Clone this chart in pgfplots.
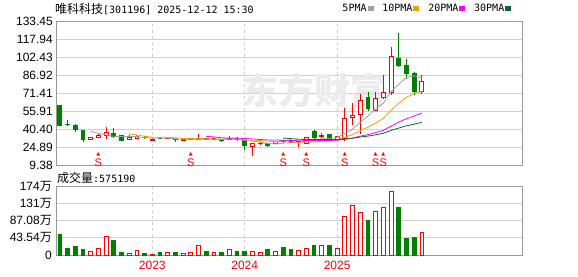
\documentclass[border=0pt]{standalone}
\usepackage{fontspec}
\setmainfont{Liberation Sans}
\newfontfamily\cjk{Noto Sans CJK SC}
\newfontfamily\dejavu{DejaVu Sans}
\newfontfamily\mono{DejaVu Sans Mono}
\usepackage{pgfplots}
\pgfplotsset{compat=1.18}
\definecolor{kred}{HTML}{FF0000}
\definecolor{kgreen}{HTML}{008000}
\definecolor{ma5}{HTML}{A0A0A0}
\definecolor{ma10}{HTML}{F5A000}
\definecolor{ma20}{HTML}{FF00FF}
\definecolor{ma30}{HTML}{006B33}
\definecolor{gridc}{HTML}{D0D0D0}
\definecolor{framec}{HTML}{999999}

% candle: index, open, high, low, close
\newcommand\candle[5]{%
  \pgfmathsetmacro\xl{#1-0.25}%
  \pgfmathsetmacro\xr{#1+0.25}%
  \ifdim #5pt<#2pt\relax \def\cc{kgreen}\def\ff{kgreen}\else \def\cc{kred}\def\ff{white}\fi
  \edef\temp{%
    \noexpand\addplot[forget plot, draw=\cc, line width=0.9pt] coordinates {(#1,#3) (#1,#4)};%
    \noexpand\addplot[forget plot, draw=\cc, fill=\ff, line width=0.9pt] coordinates {(\xl,#2) (\xr,#2) (\xr,#5) (\xl,#5)} -- cycle;%
  }\temp}

\begin{document}
\begin{tikzpicture}
\useasboundingbox (0,0) rectangle (578pt,-276pt);
\node[anchor=west, inner sep=0pt] at (55pt,-9pt) {{\cjk\fontsize{12}{12}\selectfont 唯科科技}{\mono\fontsize{10}{10}\selectfont [301196] 2025-12-12 15:30}};
\node[anchor=west, inner sep=0pt] at (57pt,-177.5pt) {{\cjk\fontsize{12}{12}\selectfont 成交量}{\mono\fontsize{10}{10}\selectfont :575190}};

\begin{axis}[
  at={(56pt,-21.5pt)}, anchor=north west,
  scale only axis, width=466pt, height=143.5pt,
  xmin=-0.5, xmax=60, ymin=9.38, ymax=133.45,
  axis line style={framec, line width=0.9pt},
  major tick length=0pt,
  xtick={12,24,36}, xticklabels={},
  ytick={9.38,24.89,40.40,55.91,71.41,86.92,102.43,117.94,133.45},
  yticklabels={9.38,24.89,40.40,55.91,71.41,86.92,102.43,117.94,133.45},
  yticklabel style={font=\fontsize{12}{12}\selectfont, anchor=east, inner sep=0pt, xshift=-3pt},
  ymajorgrids, xmajorgrids,
  major y grid style={gridc, line width=0.8pt},
  major x grid style={gridc, line width=0.8pt, dash pattern=on 3pt off 3pt},
  legend columns=4, legend plot pos=right,
  legend image code/.code={\fill (0pt,-1.5pt) rectangle (5pt,2.5pt);},
  legend style={at={(0.977,1)}, anchor=south east, yshift=7pt, draw=none, fill=none,
    inner sep=0pt, font=\mono\fontsize{10}{10}\selectfont, nodes={inner sep=1pt},
    /tikz/every even column/.append style={column sep=8pt}},
]
\node[font=\cjk\bfseries\fontsize{36}{36}\selectfont, text=black!8] at (rel axis cs:0.555,0.52) {东方财富};

\candle{0}{60.5}{61.0}{43.3}{43.9}
\candle{1}{44.8}{48.4}{43.3}{44.2}
\candle{2}{43.8}{44.4}{38.1}{40.1}
\candle{3}{39.5}{39.5}{28.9}{31.5}
\candle{4}{31.5}{33.8}{30.9}{32.9}
\candle{5}{32.9}{36.0}{32.5}{35.2}
\candle{6}{35.2}{42.1}{32.0}{37.5}
\candle{7}{36.7}{41.3}{32.9}{33.8}
\candle{8}{34.6}{35.5}{30.5}{30.9}
\candle{9}{31.5}{34.9}{31.0}{33.0}
\candle{10}{32.0}{35.2}{31.5}{34.4}
\candle{11}{33.2}{34.8}{31.9}{32.9}
\candle{12}{30.9}{32.5}{30.4}{31.8}
\candle{13}{32.4}{33.8}{31.5}{32.0}
\candle{14}{32.0}{32.8}{31.6}{32.2}
\candle{15}{31.8}{32.2}{29.5}{31.3}
\candle{16}{30.5}{31.6}{30.3}{31.3}
\candle{17}{31.4}{32.6}{31.2}{31.8}
\candle{18}{31.8}{36.1}{31.6}{32.2}
\candle{19}{32.0}{32.5}{30.8}{31.2}
\candle{20}{31.4}{34.0}{31.2}{32.3}
\candle{21}{31.5}{31.8}{29.4}{31.0}
\candle{22}{31.6}{34.4}{31.3}{32.6}
\candle{23}{32.6}{33.5}{30.3}{31.9}
\candle{24}{30.9}{31.5}{22.3}{26.0}
\candle{25}{25.2}{28.6}{17.0}{28.1}
\candle{26}{27.8}{29.0}{27.0}{28.1}
\candle{27}{28.1}{28.5}{24.6}{26.0}
\candle{28}{27.7}{30.0}{27.3}{29.5}
\candle{29}{30.5}{31.0}{28.5}{29.8}
\candle{30}{30.2}{31.5}{28.5}{29.3}
\candle{31}{29.0}{30.2}{24.6}{29.6}
\candle{32}{28.1}{33.5}{27.5}{32.9}
\candle{33}{38.7}{40.0}{32.0}{33.0}
\candle{34}{34.4}{37.0}{32.6}{34.6}
\candle{35}{35.8}{36.5}{31.0}{31.8}
\candle{36}{31.8}{34.5}{30.9}{33.8}
\candle{37}{32.0}{58.5}{30.0}{49.6}
\candle{38}{50.5}{63.4}{43.8}{51.9}
\candle{39}{53.1}{71.2}{35.8}{64.8}
\candle{40}{67.7}{72.5}{56.5}{58.2}
\candle{41}{56.8}{72.5}{56.0}{66.8}
\candle{42}{67.4}{87.5}{66.5}{72.0}
\candle{43}{72.5}{111.3}{69.7}{103.3}
\candle{44}{101.3}{123.7}{94.0}{95.5}
\candle{45}{95.5}{101.3}{84.1}{88.4}
\candle{46}{88.4}{90.0}{69.7}{73.4}
\candle{47}{73.4}{87.5}{71.2}{81.2}

\addplot[color=ma5, line width=0.8pt] coordinates {(4,38.52) (5,36.78) (6,35.44) (7,34.18) (8,34.06) (9,34.08) (10,33.92) (11,33.0) (12,32.6) (13,32.82) (14,32.66) (15,32.04) (16,31.72) (17,31.72) (18,31.76) (19,31.56) (20,31.76) (21,31.7) (22,31.86) (23,31.8) (24,30.76) (25,29.92) (26,29.34) (27,28.02) (28,27.54) (29,28.3) (30,28.54) (31,28.84) (32,30.22) (33,30.92) (34,31.88) (35,32.38) (36,33.22) (37,36.56) (38,40.34) (39,46.38) (40,51.66) (41,58.26) (42,62.74) (43,73.02) (44,79.16) (45,85.2) (46,86.5) (47,84.5)};
\addlegendentry{5PMA}
\addplot[color=ma10, line width=0.8pt] coordinates {(9,36.3) (10,35.35) (11,34.22) (12,33.39) (13,33.44) (14,33.37) (15,32.98) (16,32.36) (17,32.16) (18,32.29) (19,32.11) (20,31.9) (21,31.71) (22,31.79) (23,31.78) (24,31.16) (25,30.84) (26,30.52) (27,29.94) (28,29.67) (29,29.53) (30,29.23) (31,29.09) (32,29.12) (33,29.23) (34,30.09) (35,30.46) (36,31.03) (37,33.39) (38,35.63) (39,39.13) (40,42.02) (41,45.74) (42,49.65) (43,56.68) (44,62.77) (45,68.0) (46,71.0) (47,73.0)};
\addlegendentry{10PMA}
\addplot[color=ma20, line width=0.8pt] coordinates {(19,34.21) (20,33.63) (21,32.97) (22,32.59) (23,32.61) (24,32.27) (25,31.91) (26,31.44) (27,31.05) (28,30.98) (29,30.82) (30,30.57) (31,30.4) (32,30.46) (33,30.51) (34,30.63) (35,30.65) (36,30.78) (37,31.67) (38,32.65) (39,34.33) (40,35.63) (41,37.42) (42,39.39) (43,42.96) (44,46.43) (45,49.45) (46,51.71) (47,54.2)};
\addlegendentry{20PMA}
\addplot[color=ma30, line width=0.8pt] coordinates {(29,32.65) (30,32.16) (31,31.67) (32,31.43) (33,31.48) (34,31.54) (35,31.43) (36,31.3) (37,31.83) (38,32.53) (39,33.59) (40,34.38) (41,35.51) (42,36.85) (43,39.23) (44,41.34) (45,43.24) (46,44.65) (47,46.29)};
\addlegendentry{30PMA}

\addplot[forget plot, draw=none, mark=none,
  nodes near coords={{\dejavu\fontsize{5}{5}\selectfont ▲}\\[-1.5pt]{\fontsize{11}{11}\selectfont S}},
  every node near coord/.style={anchor=center, inner sep=0pt, align=center, text=kred}]
  coordinates {(5,14.3) (17,14.3) (29,14.3) (32,14.3) (37,14.3) (41,14.3) (42,14.3)};
\end{axis}

\begin{axis}[
  at={(56pt,-186.5pt)}, anchor=north west,
  scale only axis, width=466pt, height=68.5pt,
  xmin=-0.5, xmax=60, ymin=0, ymax=174.16,
  axis line style={framec, line width=0.9pt},
  major tick length=0pt,
  ybar, bar width=3.8pt, bar shift=0pt,
  xtick={12,24,36}, xticklabels={2023,2024,2025},
  xticklabel style={font=\fontsize{12}{12}\selectfont, text=kred, anchor=center, inner sep=0pt, yshift=-10.5pt},
  ytick={0,43.54,87.08,130.62,174.16},
  yticklabels={0,{43.54{\cjk 万}},{87.08{\cjk 万}},{131{\cjk 万}},{174{\cjk 万}}},
  yticklabel style={font=\fontsize{12}{12}\selectfont, anchor=east, inner sep=0pt, xshift=-4pt},
  ymajorgrids, xmajorgrids,
  major y grid style={gridc, line width=0.8pt},
  major x grid style={gridc, line width=0.8pt, dash pattern=on 3pt off 3pt},
]
\addplot[draw=kred, fill=white, line width=0.9pt] coordinates {(4,9.3) (5,17) (6,48) (9,5) (10,12) (12,2.5) (14,7.6) (16,5) (17,7.6) (18,25) (20,7) (22,14) (25,10) (26,7) (28,10) (31,12.6) (32,17) (34,25) (36,17.7) (37,98) (38,126) (39,108.5) (41,111) (42,121) (43,161.5) (47,57.5)};
\addplot[draw=kgreen, fill=kgreen, line width=0.9pt] coordinates {(0,53) (1,17.7) (2,22.7) (3,15) (7,38) (8,6) (11,5) (13,7.6) (15,7.6) (19,10) (21,7.6) (23,10) (24,10) (27,15) (29,20) (30,15) (33,25) (35,25) (40,88) (44,121) (45,43) (46,45)};
\end{axis}
\end{tikzpicture}
\end{document}
